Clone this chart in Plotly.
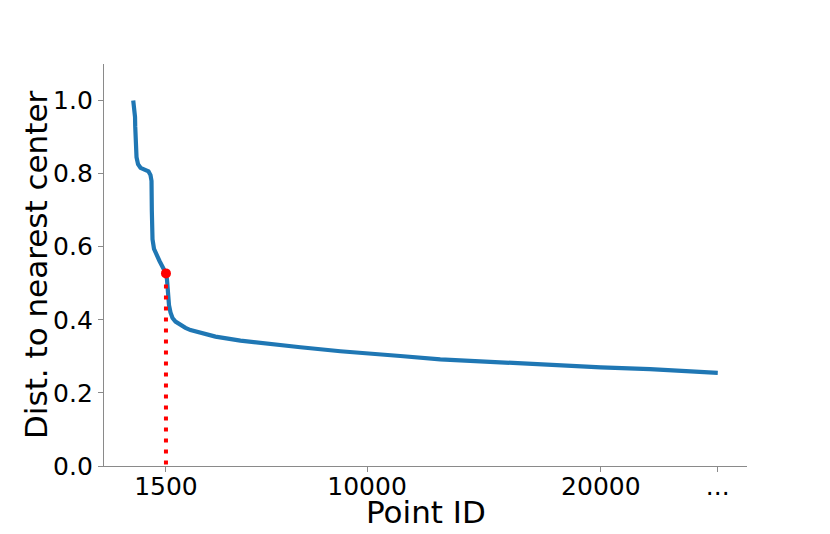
import plotly.graph_objects as go

# Curve data (point ID vs distance to nearest center)
point_id = [0, 34, 77, 85, 98, 141, 205, 312, 483, 654, 739, 782, 795, 803, 825,
            889, 996, 1124, 1252, 1400, 1444, 1487, 1530, 1594, 1680, 1808, 2021,
            2235, 2449, 2876, 3517, 4585, 5868, 7150, 8859, 10000, 11423, 13132,
            15697, 17833, 20000, 22100, 25000]
dist = [1.0, 0.985, 0.955, 0.93, 0.872, 0.845, 0.826, 0.816, 0.811, 0.806, 0.796,
        0.78, 0.70, 0.65, 0.62, 0.594, 0.577, 0.561, 0.545, 0.527, 0.51, 0.47,
        0.44, 0.42, 0.405, 0.395, 0.386, 0.378, 0.372, 0.364, 0.354, 0.343, 0.333,
        0.325, 0.314, 0.307, 0.301, 0.292, 0.283, 0.277, 0.270, 0.265, 0.255]

# Elbow point
elbow_x = [1400]
elbow_y = [0.527]

# Axis ticks
x_tickvals = [1400, 10000, 20000, 25000]
x_ticktext = ["1500", "10000", "20000", "..."]
y_tickvals = [0.0, 0.2, 0.4, 0.6, 0.8, 1.0]

FONT = "DejaVu Sans"
SPINE = "#8a8a8a"

fig = go.Figure()
fig.add_trace(go.Scatter(x=point_id, y=dist, mode="lines",
                         line=dict(color="#1f77b4", width=4.2),
                         showlegend=False, hoverinfo="skip"))
fig.add_trace(go.Scatter(x=[elbow_x[0], elbow_x[0]], y=[elbow_y[0], 0],
                         mode="lines",
                         line=dict(color="red", width=4, dash="4px,7px"),
                         showlegend=False, hoverinfo="skip"))
fig.add_trace(go.Scatter(x=elbow_x, y=elbow_y, mode="markers",
                         marker=dict(color="red", size=10),
                         showlegend=False, hoverinfo="skip"))

# page body has an 8px margin, so the figure is sized/offset to compensate
fig.update_layout(
    width=822, height=526,
    margin=dict(l=96, r=83, t=56, b=68),
    paper_bgcolor="white", plot_bgcolor="white",
    font=dict(family=FONT, color="black"),
    annotations=[
        dict(text="Point ID", x=0.5, y=0, xref="paper", yref="paper",
             xanchor="center", yanchor="middle", yshift=-46, showarrow=False,
             font=dict(size=31, family=FONT, color="black")),
        dict(text="Dist. to nearest center", x=0, y=0.5, xref="paper", yref="paper",
             xanchor="center", yanchor="middle", xshift=-68, textangle=-90,
             showarrow=False, font=dict(size=31, family=FONT, color="black")),
    ],
)
fig.update_xaxes(
    range=[-1250, 26250], tickvals=x_tickvals, ticktext=x_ticktext,
    automargin=False, ticklabelstandoff=-7,
    showgrid=False, zeroline=False, showline=True, linecolor=SPINE, linewidth=1.3,
    ticks="outside", ticklen=5, tickcolor=SPINE, tickwidth=1.3,
    tickfont=dict(size=25, family=FONT),
)
fig.update_yaxes(
    range=[0, 1.1], tickvals=y_tickvals, tickformat=".1f",
    automargin=False,
    showgrid=False, zeroline=False, showline=True, linecolor=SPINE, linewidth=1.3,
    ticks="outside", ticklen=5, tickcolor=SPINE, tickwidth=1.3,
    tickfont=dict(size=25, family=FONT),
)

fig.write_html("out.html")
